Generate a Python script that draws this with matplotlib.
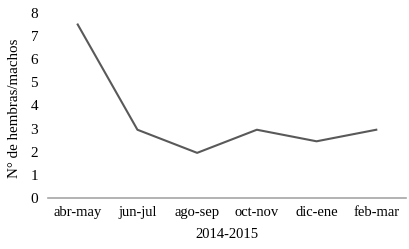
import matplotlib.pyplot as plt

periodos = ['abr-may', 'jun-jul', 'ago-sep', 'oct-nov', 'dic-ene', 'feb-mar']
proporcion = [7.5, 2.95, 1.95, 2.95, 2.45, 2.95]
yticks = [0, 1, 2, 3, 4, 5, 6, 7, 8]

plt.rcParams['font.family'] = ['Liberation Serif', 'DejaVu Serif']

fig = plt.figure(figsize=(4.09, 2.49), dpi=100)
ax = fig.add_axes([0.117, 0.205, 0.876, 0.743])

ax.plot(range(len(periodos)), proporcion, color='#595959', linewidth=1.5)

ax.set_xlim(-0.5, len(periodos) - 0.5)
ax.set_ylim(0, 8)
ax.set_xticks(range(len(periodos)))
ax.set_xticklabels(periodos)
ax.set_yticks(yticks)

for s in ['top', 'right', 'left']:
    ax.spines[s].set_visible(False)
ax.spines['bottom'].set_color('#a6a6a6')
ax.spines['bottom'].set_linewidth(1.2)
ax.tick_params(axis='both', length=0, labelsize=10.5, colors='black')
ax.tick_params(axis='x', pad=6)
ax.tick_params(axis='y', labelsize=11, pad=7)

ax.set_xlabel('2014-2015', fontsize=10.5, labelpad=6)
ax.set_ylabel('N° de hembras/machos', fontsize=10.8)
ax.yaxis.set_label_coords(-0.075, 0.484)

fig.savefig('out.png', dpi=100)
